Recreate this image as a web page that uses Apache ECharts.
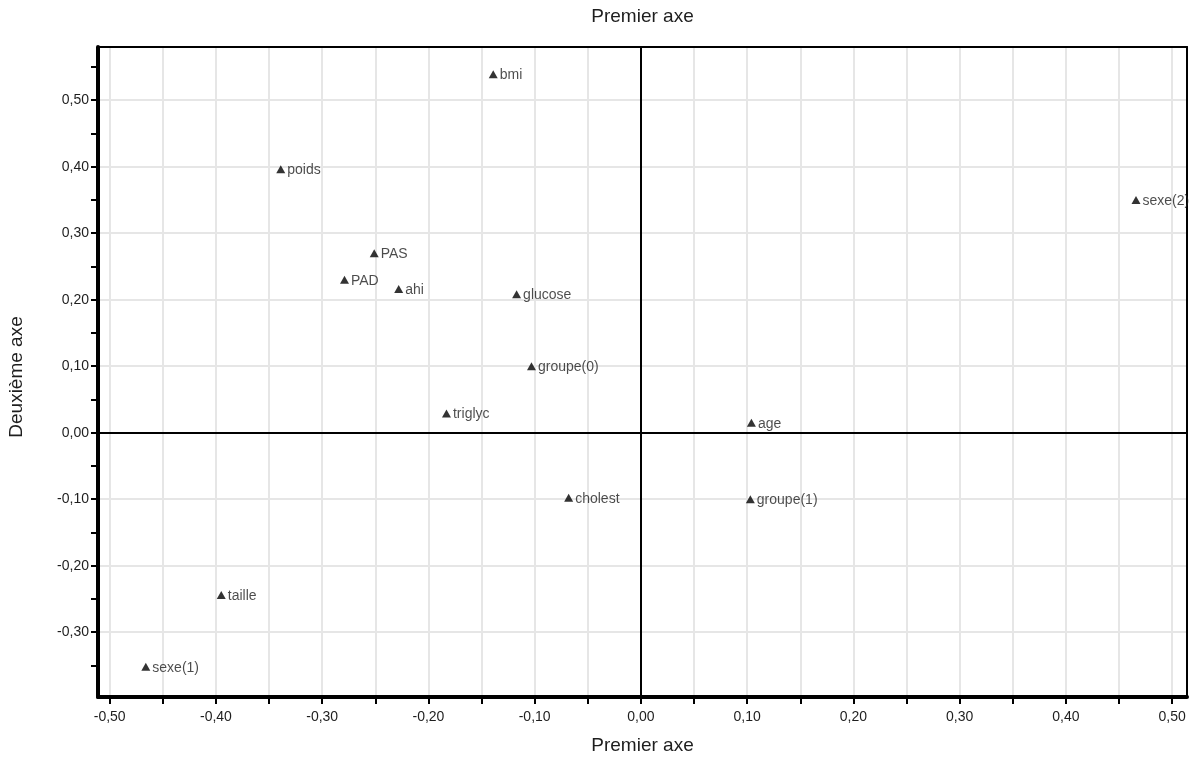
<!DOCTYPE html>
<html>
<head>
<meta charset="utf-8">
<script src="https://cdn.jsdelivr.net/npm/echarts@6/dist/echarts.min.js"></script>
<style>
  html, body { margin: 0; padding: 0; background: #fff; }
  #chart { width: 1192px; height: 760px; }
</style>
</head>
<body>
<div id="chart"></div>
<script>
// variables and their coordinates on the two axes
const names = ['bmi', 'poids', 'sexe(2)', 'PAS', 'PAD', 'ahi', 'glucose', 'groupe(0)', 'triglyc', 'age', 'cholest', 'groupe(1)', 'taille', 'sexe(1)'];
const axis1 = [-0.139, -0.339, 0.466, -0.251, -0.279, -0.228, -0.117, -0.103, -0.183, 0.104, -0.068, 0.103, -0.395, -0.466];
const axis2 = [0.539, 0.396, 0.350, 0.270, 0.230, 0.216, 0.208, 0.100, 0.029, 0.015, -0.098, -0.100, -0.244, -0.352];

// ticks and labels
const xTicks = [-0.5, -0.45, -0.4, -0.35, -0.3, -0.25, -0.2, -0.15, -0.1, -0.05, 0, 0.05, 0.1, 0.15, 0.2, 0.25, 0.3, 0.35, 0.4, 0.45, 0.5];
const xLabels = [-0.5, -0.4, -0.3, -0.2, -0.1, 0, 0.1, 0.2, 0.3, 0.4, 0.5];
const yTicks = [-0.35, -0.3, -0.25, -0.2, -0.15, -0.1, -0.05, 0, 0.05, 0.1, 0.15, 0.2, 0.25, 0.3, 0.35, 0.4, 0.45, 0.5, 0.55];
const yLabels = [-0.3, -0.2, -0.1, 0, 0.1, 0.2, 0.3, 0.4, 0.5];

const xMin = -0.511, xMax = 0.514;
const yMin = -0.3975, yMax = 0.580;

const font = "'Liberation Sans', Arial, Helvetica, sans-serif";
const textColor = '#1e1e1e';
const fmt = v => v.toFixed(2).replace('.', ',');

const chart = echarts.init(document.getElementById('chart'), null, { renderer: 'canvas' });

const option = {
  animation: false,
  textStyle: { fontFamily: font },
  grid: { left: 98, right: 5, top: 47, bottom: 63 },
  xAxis: [
    {
      type: 'value', position: 'bottom', min: xMin, max: xMax, z: 5,
      name: 'Premier axe', nameLocation: 'middle', nameGap: 39,
      nameTextStyle: { fontSize: 19, color: textColor, fontFamily: font },
      axisLine: { onZero: false, lineStyle: { color: '#000', width: 4 } },
      axisTick: { customValues: xTicks, length: 7, lineStyle: { color: '#000', width: 2 } },
      axisLabel: { customValues: xLabels, formatter: fmt, margin: 13, fontSize: 14, color: textColor, fontFamily: font },
      splitLine: { show: false }
    },
    {
      type: 'value', position: 'top', min: xMin, max: xMax, z: 5,
      name: 'Premier axe', nameLocation: 'middle', nameGap: 21,
      nameTextStyle: { fontSize: 19, color: textColor, fontFamily: font },
      axisLine: { onZero: false, lineStyle: { color: '#000', width: 2 } },
      axisTick: { show: false },
      axisLabel: { show: false },
      splitLine: { show: false }
    }
  ],
  yAxis: [
    {
      type: 'value', position: 'left', min: yMin, max: yMax, z: 5,
      axisLine: { onZero: false, lineStyle: { color: '#000', width: 4 } },
      axisTick: { customValues: yTicks, length: 7, lineStyle: { color: '#000', width: 2 } },
      axisLabel: { customValues: yLabels, formatter: fmt, margin: 9, fontSize: 14, color: textColor, fontFamily: font },
      splitLine: { show: false }
    },
    {
      type: 'value', position: 'right', min: yMin, max: yMax, z: 5,
      axisLine: { onZero: false, lineStyle: { color: '#000', width: 2 } },
      axisTick: { show: false },
      axisLabel: { show: false },
      splitLine: { show: false }
    }
  ],
  graphic: [
    {
      type: 'text', x: 17, y: 377, rotation: Math.PI / 2,
      style: { text: 'Deuxième axe', fontSize: 19, fontFamily: font, fill: textColor, align: 'center', verticalAlign: 'middle' }
    }
  ],
  series: [
    {
      // light grid
      type: 'scatter', data: [], z: 0, silent: true,
      markLine: {
        silent: true, symbol: ['none', 'none'], label: { show: false },
        lineStyle: { color: '#e6e6e6', width: 2, type: 'solid' },
        data: xTicks.filter(v => v !== 0).map(v => ({ xAxis: v }))
          .concat(yLabels.filter(v => v !== 0).map(v => ({ yAxis: v })))
      }
    },
    {
      // zero lines
      type: 'scatter', data: [], z: 1, silent: true,
      markLine: {
        silent: true, symbol: ['none', 'none'], label: { show: false },
        lineStyle: { color: '#000', width: 2, type: 'solid' },
        data: [{ xAxis: 0 }, { yAxis: 0 }]
      }
    },
    {
      type: 'scatter', z: 10,
      symbol: 'triangle', symbolSize: [9, 8],
      itemStyle: { color: '#000' },
      label: {
        show: true, position: 'right', distance: 2, offset: [0, 1],
        formatter: p => p.data[2],
        fontSize: 14, color: textColor, fontFamily: font
      },
      data: names.map((n, i) => [axis1[i], axis2[i], n])
    }
  ]
};

chart.setOption(option);
</script>
</body>
</html>
